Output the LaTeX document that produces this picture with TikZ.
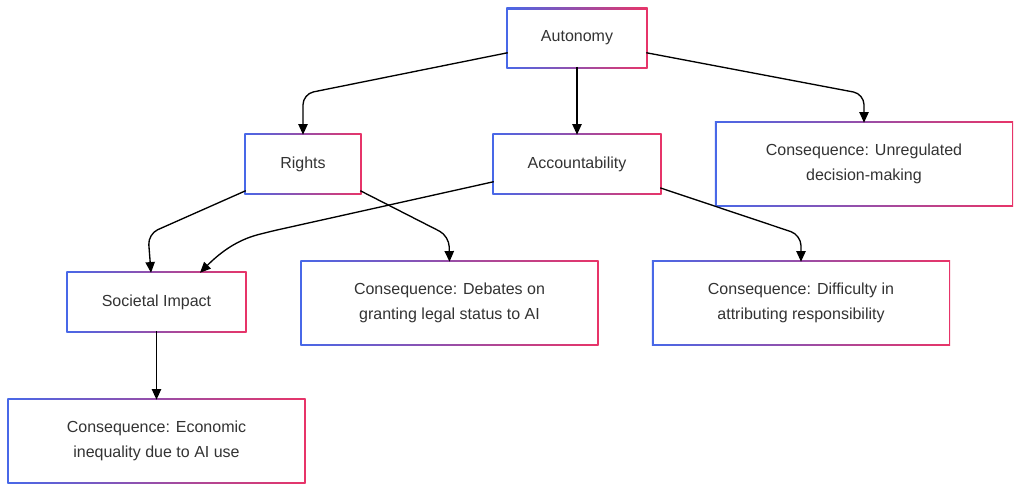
\documentclass[tikz,border=0pt]{standalone}
\usepackage{fontspec}
\setmainfont{Liberation Sans}
\usetikzlibrary{arrows.meta,calc,backgrounds}
\definecolor{edgeL}{RGB}{72,104,232}
\definecolor{edgeR}{RGB}{232,52,104}
\definecolor{txt}{RGB}{51,51,51}
\tikzset{% common styles of the picture elements
  box/.style    = {shape=rectangle, fill=white, align=center,
                   text=txt, font=\fontsize{12}{18.75}\selectfont,
                   inner sep=0pt},
  small/.style  = {box, minimum height=43.5pt},
  large/.style  = {box, minimum height=61.5pt, minimum width=221.25pt},
  link/.style   = {draw, line width=1pt, rounded corners=8pt,
                   -{Triangle[length=8pt,width=7pt]}},
}

\begin{document}
\begin{tikzpicture}[x=0.75pt, y=-0.75pt]
  \useasboundingbox (0,0) rectangle (1024,493);
  % top level
  \node [small, minimum width=103.5pt, minimum height=42.75pt]
        (aut) at (577,38) {Autonomy};
  % second level
  \node [small, minimum width=85.5pt]  (rig) at (303,164) {Rights};
  \node [small, minimum width=124.5pt] (acc) at (577,164) {Accountability};
  \node [large] (unr) at (864,164) {Consequence: Unregulated\\decision-making};
  % third level
  \node [small, minimum width=132.75pt] (soc) at (156.5,302) {Societal Impact};
  \node [large] (deb) at (449.5,303) {Consequence: Debates on\\granting legal status to AI};
  \node [large] (dif) at (801,303) {Consequence: Difficulty in\\attributing responsibility};
  % bottom level
  \node [large] (eco) at (156.5,441) {Consequence: Economic\\inequality due to AI use};
  % gradient frames behind the boxes
  \begin{scope}[on background layer]
    \foreach \n in {aut,rig,acc,unr,soc,deb,dif,eco}
      \shade [left color=edgeL, right color=edgeR]
        ($(\n.south west)+(-1.4,1.4)$) rectangle ($(\n.north east)+(1.4,-1.4)$);
  \end{scope}
  % connectors
  \draw [link] (aut.192) -- (303,94) -- (rig.north);
  \draw [link] (aut.south) -- (acc.north);
  \draw [link] (aut.348) -- (864,94) -- (unr.north);
  \draw [link] (rig.205) -- (148,234) -- ($(soc.north)+(-5.5,0)$);
  \draw [link] (acc.192) -- (268,232) to[out=195,in=45] ($(soc.north)+(43.5,0)$);
  \draw [link] (rig.335) -- (449,236) -- (deb.north);
  \draw [link] (acc.344) -- (801,235) -- (dif.north);
  \draw [link] (soc.south) -- (eco.north);
\end{tikzpicture}
\end{document}
